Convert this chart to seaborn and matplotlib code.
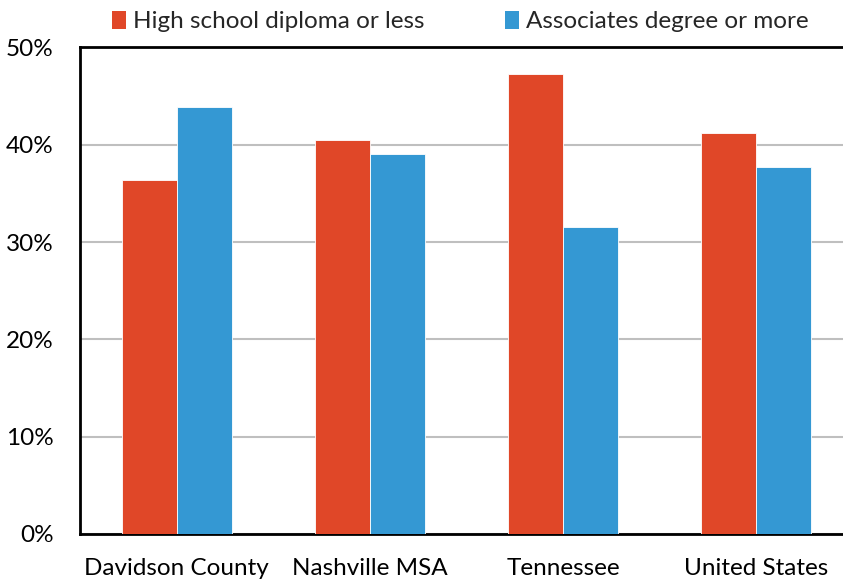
import matplotlib
matplotlib.use("Agg")
import matplotlib.pyplot as plt
import seaborn as sns
import pandas as pd
from matplotlib.patches import Patch

regions = ["Davidson County", "Nashville MSA", "Tennessee", "United States"]
hs_or_less = [36.4, 40.5, 47.3, 41.2]
assoc_or_more = [43.9, 39.0, 31.5, 37.7]
series_names = ["High school diploma or less", "Associates degree or more"]
yticks = [0, 10, 20, 30, 40, 50]

df = pd.DataFrame({
    "region": regions * 2,
    "share": hs_or_less + assoc_or_more,
    "group": [series_names[0]] * 4 + [series_names[1]] * 4,
})

sns.set_theme(style="white")
plt.rcParams["font.family"] = ["Lato", "DejaVu Sans"]

colors = ["#E04728", "#3498D3"]
fs = 17.5

fig = plt.figure(figsize=(8.43, 5.82), dpi=100)
ax = fig.add_axes([80 / 843, 1 - 534 / 582, (852.8 - 80) / 843, (534 - 47.4) / 582])

sns.barplot(data=df, x="region", y="share", hue="group", hue_order=series_names,
            palette=colors, width=0.57, gap=0, saturation=1, ax=ax,
            edgecolor="white", linewidth=0.6, legend=False, zorder=3)

ax.set_ylim(0, 50)
ax.set_xlim(-0.5, 3.5)
ax.set_yticks(yticks)
ax.set_yticklabels([f"{v}%" for v in yticks])
ax.yaxis.grid(True, color="#BFBFBF", linewidth=1.5, zorder=0)
ax.set_axisbelow(True)
ax.set_xlabel("")
ax.set_ylabel("")
ax.tick_params(axis="both", length=0, labelsize=fs, colors="black")
ax.tick_params(axis="x", pad=17)
ax.tick_params(axis="y", pad=19)
for side in ["top", "left", "bottom"]:
    ax.spines[side].set_visible(True)
    ax.spines[side].set_color("black")
    ax.spines[side].set_linewidth(2)
ax.spines["right"].set_visible(False)

handles = [Patch(facecolor=c, edgecolor="none") for c in colors]
fig.legend(handles, series_names, loc="center", bbox_to_anchor=(0.546, 0.963),
           ncol=2, frameon=False, fontsize=fs, handlelength=0.58, handleheight=0.8,
           handletextpad=0.28, columnspacing=3.3)

fig.savefig("out.png", dpi=100)
